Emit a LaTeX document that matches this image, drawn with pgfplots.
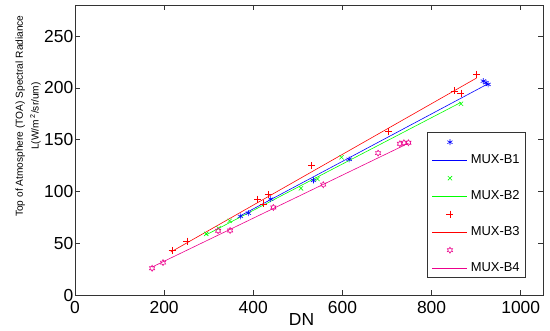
\documentclass[border=0pt]{standalone}
\usepackage{fontspec}
\setmainfont{Liberation Sans}
\usepackage{pgfplots}
\pgfplotsset{compat=1.18}
\usetikzlibrary{plotmarks}

\pgfdeclareplotmark{hexagram}{%
  \pgfpathmoveto{\pgfpointpolar{90}{\pgfplotmarksize}}%
  \pgfpathlineto{\pgfpointpolar{120}{0.577\pgfplotmarksize}}%
  \pgfpathlineto{\pgfpointpolar{150}{\pgfplotmarksize}}%
  \pgfpathlineto{\pgfpointpolar{180}{0.577\pgfplotmarksize}}%
  \pgfpathlineto{\pgfpointpolar{210}{\pgfplotmarksize}}%
  \pgfpathlineto{\pgfpointpolar{240}{0.577\pgfplotmarksize}}%
  \pgfpathlineto{\pgfpointpolar{270}{\pgfplotmarksize}}%
  \pgfpathlineto{\pgfpointpolar{300}{0.577\pgfplotmarksize}}%
  \pgfpathlineto{\pgfpointpolar{330}{\pgfplotmarksize}}%
  \pgfpathlineto{\pgfpointpolar{0}{0.577\pgfplotmarksize}}%
  \pgfpathlineto{\pgfpointpolar{30}{\pgfplotmarksize}}%
  \pgfpathlineto{\pgfpointpolar{60}{0.577\pgfplotmarksize}}%
  \pgfpathclose
  \pgfusepathqstroke
}

\pgfplotsset{
  markleg/.style={only marks, legend image code/.code={\path (0bp,0bp) (35bp,0bp); \draw[##1] plot coordinates {(17.5bp,0bp)};}},
  lineleg/.style={no marks, line width=0.6bp, legend image code/.code={\draw[##1] (0bp,0bp) -- (35bp,0bp);}},
}

\begin{document}
\begin{tikzpicture}
\begin{axis}[
  name=ax,
  scale only axis,
  width=468bp, height=290bp,
  xmin=0, xmax=1050, ymin=0, ymax=280,
  xtick={0,200,...,1000}, ytick={0,50,...,250},
  tick align=inside,
  major tick length=5bp,
  axis line style={line width=0.6bp, black!80},
  every tick/.style={line width=0.6bp, black!80},
  /pgf/number format/assume math mode=true,
  /pgf/number format/1000 sep={},
  ticklabel style={font=\fontsize{17.5}{17.5}\selectfont},
  xticklabel style={inner sep=0pt, yshift=-6.5bp},
  yticklabel style={inner sep=0pt, xshift=-1.5bp},
  xlabel={DN},
  xlabel style={at={(axis description cs:0.484,-0.062)}, anchor=north, inner sep=0pt, font=\fontsize{17.5}{17.5}\selectfont},
  ylabel={Top of Atmosphere (TOA) Spectral Radiance\\L(W/m\,\textsuperscript{2}/sr/um)},
  ylabel style={at={(axis description cs:-0.0726,0.617)}, anchor=south, inner sep=0pt, align=center, font=\fontsize{10.2}{16}\selectfont},
  legend style={at={(axis description cs:1,0)}, anchor=south east, xshift=-17bp, yshift=17bp,
    draw=black!80, line width=0.6bp, font=\fontsize{13}{13}\selectfont,
    inner xsep=5bp, inner ysep=2.5bp, row sep=4bp, column sep=2bp,
    nodes={inner sep=1bp, text height=9.5bp, text depth=2.5bp}},
  legend cell align=left,
]
% MUX-B1
\addplot[markleg, blue, mark=asterisk, mark size=3bp, mark options={line width=0.6bp}] coordinates {
 (371,76) (389,79) (439,92.6) (535,110.6) (615,131) (916,206.5) (922,205) (927,203.3)};
\addlegendentry{\mbox{}}
\addplot[lineleg, blue] coordinates {(371,76.5) (927,204)};
\addlegendentry{MUX-B1}
% MUX-B2
\addplot[markleg, green, mark=x, mark size=3bp, mark options={line width=0.6bp}] coordinates {
 (294.5,59) (322,64.5) (347,71.6) (507,103) (544,112) (598,133) (866,184.6)};
\addlegendentry{\mbox{}}
\addplot[lineleg, green] coordinates {(294,58) (866,186)};
\addlegendentry{MUX-B2}
% MUX-B3
\addplot[markleg, red, mark=+, mark size=3.5bp, mark options={line width=0.6bp}] coordinates {
 (218,43) (251,52) (410,92.6) (423,88) (434,96.8) (531,125) (703,158) (851,197) (866,195) (901,213)};
\addlegendentry{\mbox{}}
\addplot[lineleg, red] coordinates {(215,41.5) (901,209.5)};
\addlegendentry{MUX-B3}
% MUX-B4
\addplot[markleg, magenta, mark=hexagram, mark size=3bp, mark options={line width=0.6bp}] coordinates {
 (173,25.8) (197.5,31.3) (321,62) (348,62.3) (445,84.5) (557,106.5) (680,137) (729,146) (738,147) (748,147)};
\addlegendentry{\mbox{}}
\addplot[lineleg, magenta] coordinates {(173,27) (748,146.5)};
\addlegendentry{MUX-B4}
\end{axis}
\pgfresetboundingbox
\path ([xshift=-75bp,yshift=-36bp]ax.south west) rectangle ([xshift=7bp,yshift=5bp]ax.north east);
\end{tikzpicture}
\end{document}
